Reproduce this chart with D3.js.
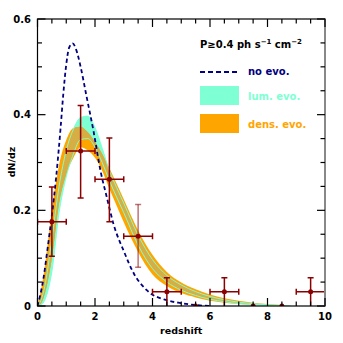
<!DOCTYPE html>
<html>
<head>
<meta charset="utf-8">
<script src="https://cdn.jsdelivr.net/npm/d3@7"></script>
<style>
  body { margin: 0; background: #fff; }
  text { font-family: "DejaVu Sans", sans-serif; font-weight: bold; }
</style>
</head>
<body>
<svg width="343" height="343"></svg>
<script>
// observed counts per redshift bin
var binLo = [0, 1, 2, 3, 4, 5, 6, 7, 8, 9];
var binHi = [1, 2, 3, 4, 5, 6, 7, 8, 9, 10];
var obsZ = [0.5, 1.5, 2.5, 3.5, 4.5, 5.5, 6.5, 7.5, 8.5, 9.5];
var obsN = [0.176, 0.324, 0.265, 0.146, 0.030, 0, 0.030, 0, 0, 0.030];
var obsHi = [0.249, 0.419, 0.351, 0.212, 0.059, null, 0.059, null, null, 0.059];
var obsLo = [0.104, 0.226, 0.176, 0.081, 0, null, 0, null, null, 0];

// no evolution model
var noEvoZ = [0, 0.2, 0.35, 0.5, 0.65, 0.8, 0.9, 1.0, 1.1, 1.22, 1.35, 1.5, 1.7, 1.95, 2.2, 2.4, 2.65, 3.0, 3.35, 3.8, 4.5, 5.0, 5.5, 6.0];
var noEvoN = [0, 0.055, 0.12, 0.19, 0.27, 0.37, 0.445, 0.505, 0.54, 0.549, 0.535, 0.5, 0.44, 0.365, 0.28, 0.23, 0.17, 0.115, 0.068, 0.033, 0.012, 0.006, 0.002, 0];

// model bands
var bandZ = [0, 0.12, 0.25, 0.5, 0.75, 1.0, 1.25, 1.5, 1.75, 2.0, 2.25, 2.5, 2.75, 3.0, 3.5, 4.0, 4.5, 5.0, 5.5, 6.0, 6.5, 7.0, 7.5, 8.0, 8.5, 8.8];
var densHi = [0, 0.033, 0.08, 0.2, 0.295, 0.347, 0.372, 0.375, 0.363, 0.343, 0.318, 0.288, 0.256, 0.223, 0.158, 0.107, 0.071, 0.049, 0.035, 0.024, 0.016, 0.011, 0.007, 0.004, 0.002, 0];
var densLo = [0, 0.005, 0.025, 0.1, 0.215, 0.275, 0.31, 0.332, 0.325, 0.31, 0.283, 0.245, 0.21, 0.175, 0.113, 0.066, 0.042, 0.027, 0.018, 0.011, 0.007, 0.004, 0.0025, 0.0012, 0.0005, 0];
var lumHi = [0, 0.012, 0.04, 0.14, 0.25, 0.325, 0.37, 0.394, 0.397, 0.373, 0.33, 0.283, 0.248, 0.215, 0.148, 0.097, 0.064, 0.044, 0.03, 0.02, 0.013, 0.008, 0.005, 0.0025, 0.001, 0];
var lumLo = [0, 0.002, 0.012, 0.072, 0.195, 0.27, 0.318, 0.348, 0.35, 0.332, 0.3, 0.262, 0.228, 0.195, 0.127, 0.078, 0.05, 0.033, 0.022, 0.014, 0.009, 0.005, 0.003, 0.0015, 0.0005, 0];

var xTicks = [0, 2, 4, 6, 8, 10];
var yTicks = [0, 0.2, 0.4, 0.6];

var svg = d3.select("svg");
var pL = 37.5, pR = 325, pT = 19, pB = 306;

var x = d3.scaleLinear().domain([0, 10]).range([pL, pR]);
var y = d3.scaleLinear().domain([0, 0.6]).range([pB, pT]);

var defs = svg.append("defs");
defs.append("clipPath").attr("id", "plot")
    .append("rect").attr("x", pL).attr("y", pT)
    .attr("width", pR - pL).attr("height", pB - pT);

var g = svg.append("g").attr("clip-path", "url(#plot)");

var band = function (lo, hi) {
    return d3.area()
        .x(function (d, i) { return x(bandZ[i]); })
        .y0(function (d, i) { return y(lo[i]); })
        .y1(function (d, i) { return y(hi[i]); })
        .curve(d3.curveMonotoneX)(bandZ);
};
var edge = function (vals) {
    return d3.line()
        .x(function (d, i) { return x(bandZ[i]); })
        .y(function (d, i) { return y(vals[i]); })
        .curve(d3.curveMonotoneX)(bandZ);
};

defs.append("clipPath").attr("id", "dens")
    .append("path").attr("d", band(densLo, densHi));

g.append("path").attr("d", band(lumLo, lumHi)).attr("fill", "#7fffd4");
g.append("path").attr("d", band(densLo, densHi)).attr("fill", "#ffa500");
g.append("path").attr("d", band(lumLo, lumHi)).attr("fill", "#d6ae44")
    .attr("clip-path", "url(#dens)");
[lumLo, lumHi].forEach(function (v) {
    g.append("path").attr("d", edge(v)).attr("fill", "none")
        .attr("stroke", "#7fffd4").attr("stroke-width", 1);
});

g.append("path")
    .attr("d", d3.line()
        .x(function (d, i) { return x(noEvoZ[i]); })
        .y(function (d) { return y(d); })
        .curve(d3.curveMonotoneX)(noEvoN))
    .attr("fill", "none")
    .attr("stroke", "#000080")
    .attr("stroke-width", 1.8)
    .attr("stroke-dasharray", "4,3");

// data points with error bars
var red = "#8b0000";
obsZ.forEach(function (z, i) {
    var cy = y(obsN[i]);
    if (obsHi[i] !== null) {
        g.append("line").attr("x1", x(binLo[i])).attr("x2", x(binHi[i]))
            .attr("y1", cy).attr("y2", cy).attr("stroke", red).attr("stroke-width", 1.5);
        [binLo[i], binHi[i]].forEach(function (b) {
            g.append("line").attr("x1", x(b)).attr("x2", x(b))
                .attr("y1", cy - 3).attr("y2", cy + 3).attr("stroke", red).attr("stroke-width", 1.5);
        });
        g.append("line").attr("x1", x(z)).attr("x2", x(z))
            .attr("y1", y(obsLo[i])).attr("y2", y(obsHi[i]))
            .attr("stroke", red).attr("stroke-width", 1.5)
            .attr("stroke-opacity", i === 3 ? 0.55 : 1);
        [obsLo[i], obsHi[i]].forEach(function (v) {
            if (v <= 0) return;
            g.append("line").attr("x1", x(z) - 3).attr("x2", x(z) + 3)
                .attr("y1", y(v)).attr("y2", y(v)).attr("stroke", red).attr("stroke-width", 1.5)
                .attr("stroke-opacity", i === 3 ? 0.55 : 1);
        });
    }
    g.append("circle").attr("cx", x(z)).attr("cy", cy).attr("r", 2.5).attr("fill", red);
});

// frame and ticks on all sides
svg.append("rect").attr("x", pL).attr("y", pT)
    .attr("width", pR - pL).attr("height", pB - pT)
    .attr("fill", "none").attr("stroke", "#000").attr("stroke-width", 1.2);
svg.append("line").attr("x1", pR).attr("x2", pR).attr("y1", pT).attr("y2", pB)
    .attr("stroke", "#888").attr("stroke-width", 2);

var tk = svg.append("g").attr("stroke", "#000").attr("stroke-width", 1.2);
d3.range(0, 10.01, 0.5).forEach(function (v) {
    var len = Math.abs(v % 2) < 1e-6 ? 8 : 4.5;
    tk.append("line").attr("x1", x(v)).attr("x2", x(v)).attr("y1", pB).attr("y2", pB - len);
    tk.append("line").attr("x1", x(v)).attr("x2", x(v)).attr("y1", pT).attr("y2", pT + len);
});
d3.range(0, 0.601, 0.05).forEach(function (v) {
    var len = Math.round(v * 100) % 20 === 0 ? 8 : 4.5;
    tk.append("line").attr("x1", pL).attr("x2", pL + len).attr("y1", y(v)).attr("y2", y(v));
    tk.append("line").attr("x1", pR).attr("x2", pR - len).attr("y1", y(v)).attr("y2", y(v));
});

svg.append("g").selectAll("text").data(xTicks).enter().append("text")
    .attr("x", function (d) { return x(d); }).attr("y", 320)
    .attr("text-anchor", "middle").attr("font-size", 10).text(function (d) { return d; });
svg.append("g").selectAll("text").data(yTicks).enter().append("text")
    .attr("x", 31).attr("y", function (d) { return y(d) + 3.6; })
    .attr("text-anchor", "end").attr("font-size", 10).text(function (d) { return d; });

svg.append("text").attr("x", (pL + pR) / 2).attr("y", 334)
    .attr("text-anchor", "middle").attr("font-size", 9.5).text("redshift");
svg.append("text").attr("transform", "translate(15,162) rotate(-90)")
    .attr("text-anchor", "middle").attr("font-size", 9.5).text("dN/dz");

// legend
var title = svg.append("text").attr("x", 200).attr("y", 48).attr("font-size", 10);
title.append("tspan").text("P\u22650.4 ph s");
title.append("tspan").attr("dy", -4).attr("font-size", 7).text("\u22121");
title.append("tspan").attr("dy", 4).text(" cm");
title.append("tspan").attr("dy", -4).attr("font-size", 7).text("\u22122");

svg.append("line").attr("x1", 200).attr("x2", 239).attr("y1", 72).attr("y2", 72)
    .attr("stroke", "#000080").attr("stroke-width", 1.8).attr("stroke-dasharray", "5,3");
svg.append("rect").attr("x", 200).attr("y", 86).attr("width", 39).attr("height", 19).attr("fill", "#7fffd4");
svg.append("rect").attr("x", 200).attr("y", 114).attr("width", 39).attr("height", 19).attr("fill", "#ffa500");

svg.append("text").attr("x", 248).attr("y", 75).attr("font-size", 10).attr("fill", "#000080").text("no evo.");
svg.append("text").attr("x", 248).attr("y", 100).attr("font-size", 10).attr("fill", "#7fffd4").text("lum. evo.");
svg.append("text").attr("x", 248).attr("y", 128).attr("font-size", 10).attr("fill", "#ffa500").text("dens. evo.");
</script>
</body>
</html>
